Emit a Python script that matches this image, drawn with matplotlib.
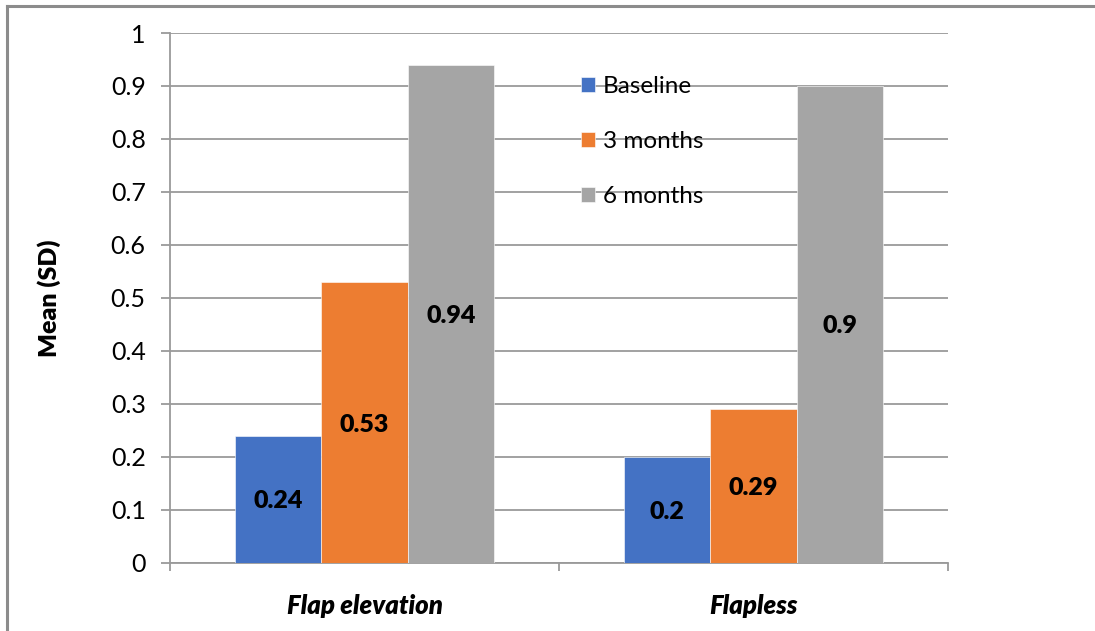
import matplotlib.pyplot as plt
import numpy as np

categories = ['Flap elevation', 'Flapless']
series = ['Baseline', '3 months', '6 months']
baseline = [0.24, 0.2]
three_months = [0.53, 0.29]
six_months = [0.94, 0.9]
colors = ['#4472c4', '#ed7d31', '#a5a5a5']

plt.rcParams['font.family'] = ['Lato', 'DejaVu Sans']

fig = plt.figure(figsize=(10.95, 6.31), dpi=100)
ax = fig.add_axes([0.1553, 0.1078, 0.7105, 0.8399])

x = np.arange(len(categories))
width = 0.222
grid_col = '#9a9a9a'

for i, (name, vals) in enumerate(zip(series, [baseline, three_months, six_months])):
    pos = x + (i - 1) * width
    bars = ax.bar(pos, vals, width, color=colors[i], label=name,
                  edgecolor='white', linewidth=0.4, zorder=3)
    for b, v in zip(bars, vals):
        ax.text(b.get_x() + b.get_width() / 2, v / 2, f'{v:g}',
                ha='center', va='center_baseline', fontsize=18, fontweight='heavy',
                color='black', zorder=4)

ax.set_xlim(-0.5, 1.5)
ax.set_ylim(0, 1)
ax.set_yticks(np.arange(0, 1.01, 0.1))
ax.set_yticklabels([f'{v:g}' for v in np.round(np.arange(0, 1.01, 0.1), 1)])
ax.yaxis.grid(True, color=grid_col, linewidth=1.3, zorder=0)
ax.set_axisbelow(True)

ax.set_xticks(x)
ax.set_xticklabels(categories, fontsize=18.5, fontweight='heavy', style='italic')
ax.tick_params(axis='x', which='major', length=0, pad=22)
ax.set_xticks([-0.5, 0.5, 1.5], minor=True)
ax.tick_params(axis='x', which='minor', length=6, width=1.3, color=grid_col,
               direction='out')
ax.tick_params(axis='y', length=6.5, width=1.3, color=grid_col, pad=11,
               labelsize=18)

for side in ['top', 'right']:
    ax.spines[side].set_visible(False)
for side in ['left', 'bottom']:
    ax.spines[side].set_color(grid_col)
    ax.spines[side].set_linewidth(1.3)

ax.set_ylabel('Mean (SD)', fontsize=18, fontweight='heavy', labelpad=36)

leg = ax.legend(loc='upper left', bbox_to_anchor=(0.5155, 0.937), frameon=False,
                fontsize=17.5, handlelength=0.6, handleheight=0.6,
                handletextpad=0.3, labelspacing=1.4, borderaxespad=0)

# thin gray frame on the left and top edges of the figure
fig.add_artist(plt.Line2D([7 / 1095, 7 / 1095], [0, 1 - 6 / 631],
                          transform=fig.transFigure, color='#8c8c8c', linewidth=2.2))
fig.add_artist(plt.Line2D([7 / 1095, 1], [1 - 6 / 631, 1 - 6 / 631],
                          transform=fig.transFigure, color='#8c8c8c', linewidth=2.2))

fig.savefig('out.png', dpi=100)
